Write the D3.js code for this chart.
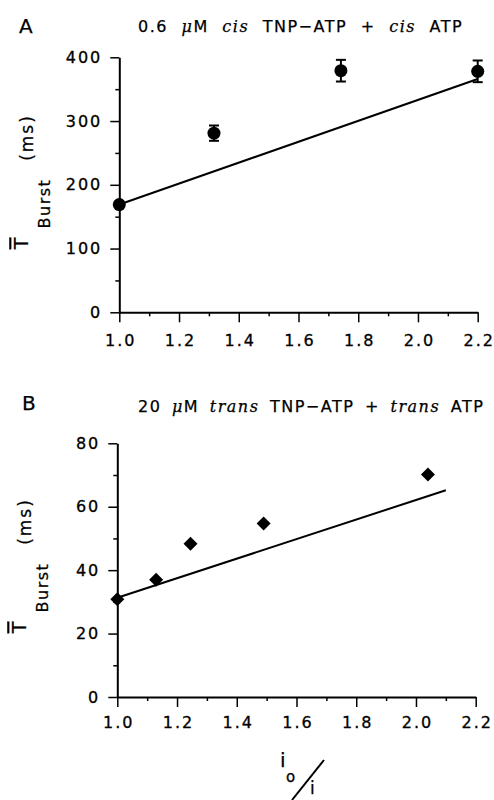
<!DOCTYPE html>
<html>
<head>
<meta charset="utf-8">
<script src="https://cdnjs.cloudflare.com/ajax/libs/d3/7.8.5/d3.min.js"></script>
<style>
  body { margin: 0; background: #fff; }
  svg { display: block; }
  .tick text { font-family: "DejaVu Sans", sans-serif; font-size: 16px; letter-spacing: 2px; fill: #000; stroke: #000; stroke-width: 0.3px; }
  .axis path, .axis line { stroke: #000; }
  .lbl { font-family: "DejaVu Sans", sans-serif; fill: #000; stroke: #000; stroke-width: 0.25px; }
  .it { font-family: "DejaVu Serif", serif; font-style: italic; }
</style>
</head>
<body>
<div id="chart"></div>
<script>
// panel A : 0.6 uM cis TNP-ATP + cis ATP
const ratioA = [1.0, 1.317, 1.742, 2.2];
const burstA = [169, 281, 379, 378];
const errA = [4, 12, 17, 17];
const fitA = [[1.0, 169], [2.2, 366]];
const yTicksA = [0, 100, 200, 300, 400];
const yMinorA = [50, 150, 250, 350];

// panel B : 20 uM trans TNP-ATP + trans ATP
const ratioB = [1.0, 1.13, 1.245, 1.49, 2.04];
const burstB = [30.8, 37, 48.3, 54.7, 70.2];
const fitB = [[1.0, 31.3], [2.1, 65.2]];
const yTicksB = [0, 20, 40, 60, 80];
const yMinorB = [10, 30, 50, 70];

const xTicks = [1.0, 1.2, 1.4, 1.6, 1.8, 2.0, 2.2];
const xMinor = [1.1, 1.3, 1.5, 1.7, 1.9, 2.1];

const svg = d3.select('#chart').append('svg')
    .attr('width', 494)
    .attr('height', 800);

//method to draw one panel
function drawPanel(p) {
    const x = d3.scaleLinear().domain([1.0, 2.2]).range([p.left, p.right]);
    const y = d3.scaleLinear().domain(p.yDomain).range([p.bottom, p.top]);
    const g = svg.append('g');

    //minor ticks first
    g.append('g').attr('class', 'axis')
        .attr('transform', `translate(0,${p.bottom})`)
        .call(d3.axisBottom(x).tickValues(xMinor).tickSize(4).tickFormat(''))
        .call(s => s.select('.domain').remove())
        .selectAll('line').attr('stroke-width', 1.5);
    g.append('g').attr('class', 'axis')
        .attr('transform', `translate(${p.left},0)`)
        .call(d3.axisLeft(y).tickValues(p.yMinor).tickSize(4).tickFormat(''))
        .call(s => s.select('.domain').remove())
        .selectAll('line').attr('stroke-width', 1.5);

    //x axis
    const xa = g.append('g').attr('class', 'axis')
        .attr('transform', `translate(0,${p.bottom})`)
        .call(d3.axisBottom(x).tickValues(xTicks).tickSize(10).tickSizeOuter(0)
            .tickPadding(p.xPad).tickFormat(d3.format('.1f')));
    xa.select('.domain').attr('stroke-width', 2);
    xa.selectAll('line').attr('stroke-width', 1.5);
    xa.selectAll('text').attr('dx', 1);

    //y axis
    const ya = g.append('g').attr('class', 'axis')
        .attr('transform', `translate(${p.left},0)`)
        .call(d3.axisLeft(y).tickValues(p.yTicks).tickSize(9).tickSizeOuter(0).tickPadding(8));
    ya.select('.domain').attr('stroke-width', 2);
    ya.selectAll('line').attr('stroke-width', 1.5);

    //fit line
    const line = d3.line().x(d => x(d[0])).y(d => y(d[1]));
    g.append('path')
        .datum(p.fit)
        .attr('d', line)
        .attr('fill', 'none')
        .attr('stroke', '#000')
        .attr('stroke-width', 2);

    const pts = p.xs.map((v, i) => ({ x: v, y: p.ys[i], e: p.errs ? p.errs[i] : 0 }));

    //error bars
    if (p.errs) {
        const eb = g.selectAll('.eb').data(pts).enter().append('g')
            .attr('stroke', '#000').attr('stroke-width', 2);
        eb.append('line')
            .attr('x1', d => x(d.x)).attr('x2', d => x(d.x))
            .attr('y1', d => y(d.y - d.e)).attr('y2', d => y(d.y + d.e));
        eb.append('line')
            .attr('x1', d => x(d.x) - 5).attr('x2', d => x(d.x) + 5)
            .attr('y1', d => y(d.y + d.e)).attr('y2', d => y(d.y + d.e));
        eb.append('line')
            .attr('x1', d => x(d.x) - 5).attr('x2', d => x(d.x) + 5)
            .attr('y1', d => y(d.y - d.e)).attr('y2', d => y(d.y - d.e));
    }

    //markers
    if (p.marker === 'circle') {
        g.selectAll('.pt').data(pts).enter().append('circle')
            .attr('cx', d => x(d.x)).attr('cy', d => y(d.y))
            .attr('r', 6.5).attr('fill', '#000');
    } else {
        const sym = d3.symbol().type(d3.symbolSquare).size(98);
        g.selectAll('.pt').data(pts).enter().append('path')
            .attr('d', sym)
            .attr('transform', d => `translate(${x(d.x)},${y(d.y)}) rotate(45)`)
            .attr('fill', '#000');
    }

    //panel letter
    g.append('text').attr('class', 'lbl')
        .attr('x', p.letterX).attr('y', p.letterY)
        .style('font-size', '20px')
        .text(p.letter);

    //title
    const t = g.append('text').attr('class', 'lbl')
        .attr('x', 138).attr('y', p.titleY)
        .style('font-size', '16px')
        .style('letter-spacing', '1.5px')
        .style('word-spacing', p.wordSp);
    t.append('tspan').text(p.conc + ' ');
    t.append('tspan').attr('class', 'it').text('μ');
    t.append('tspan').text('M ');
    t.append('tspan').attr('class', 'it').text(p.side);
    t.append('tspan').text(' TNP−ATP + ');
    t.append('tspan').attr('class', 'it').text(p.side);
    t.append('tspan').text(' ATP');

    //y label : T-bar Burst (ms)
    g.append('text').attr('class', 'lbl')
        .attr('transform', `translate(${p.left - 91},${p.tY}) rotate(-90)`)
        .attr('text-anchor', 'middle')
        .style('font-size', '19px')
        .style('text-decoration', 'overline')
        .text('T');
    g.append('text').attr('class', 'lbl')
        .attr('transform', `translate(${p.left - 69},${p.tY - 40}) rotate(-90)`)
        .attr('text-anchor', 'middle')
        .style('font-size', '16px')
        .style('letter-spacing', '1.5px')
        .text('Burst');
    g.append('text').attr('class', 'lbl')
        .attr('transform', `translate(${p.left - 86},${p.tY - 106}) rotate(-90)`)
        .attr('text-anchor', 'middle')
        .style('font-size', '17px')
        .style('letter-spacing', '2px')
        .text('(ms)');
}

drawPanel({
    left: 119.3, right: 477.7, top: 57.3, bottom: 312.3,
    yDomain: [0, 400], yTicks: yTicksA, yMinor: yMinorA,
    xs: ratioA, ys: burstA, errs: errA, fit: fitA, marker: 'circle',
    xPad: 12, letter: 'A', letterX: 19, letterY: 33, titleY: 32,
    conc: '0.6', side: 'cis', tY: 243.5, wordSp: '7px'
});

drawPanel({
    left: 117.3, right: 475.7, top: 443.3, bottom: 697,
    yDomain: [0, 80], yTicks: yTicksB, yMinor: yMinorB,
    xs: ratioB, ys: burstB, errs: null, fit: fitB, marker: 'diamond',
    xPad: 10, letter: 'B', letterX: 22, letterY: 410, titleY: 412,
    conc: '20', side: 'trans', tY: 627.5, wordSp: '4px'
});

//x label of panel B : i_o / i
const xl = svg.append('g');
xl.append('text').attr('class', 'lbl')
    .attr('x', 280).attr('y', 767).style('font-size', '20px').text('i');
xl.append('text').attr('class', 'lbl')
    .attr('x', 286).attr('y', 782).style('font-size', '15px').text('o');
xl.append('line')
    .attr('x1', 292).attr('y1', 800).attr('x2', 324).attr('y2', 760)
    .attr('stroke', '#000').attr('stroke-width', 2);
xl.append('text').attr('class', 'lbl')
    .attr('x', 310).attr('y', 794).style('font-size', '17px').text('i');
</script>
</body>
</html>
